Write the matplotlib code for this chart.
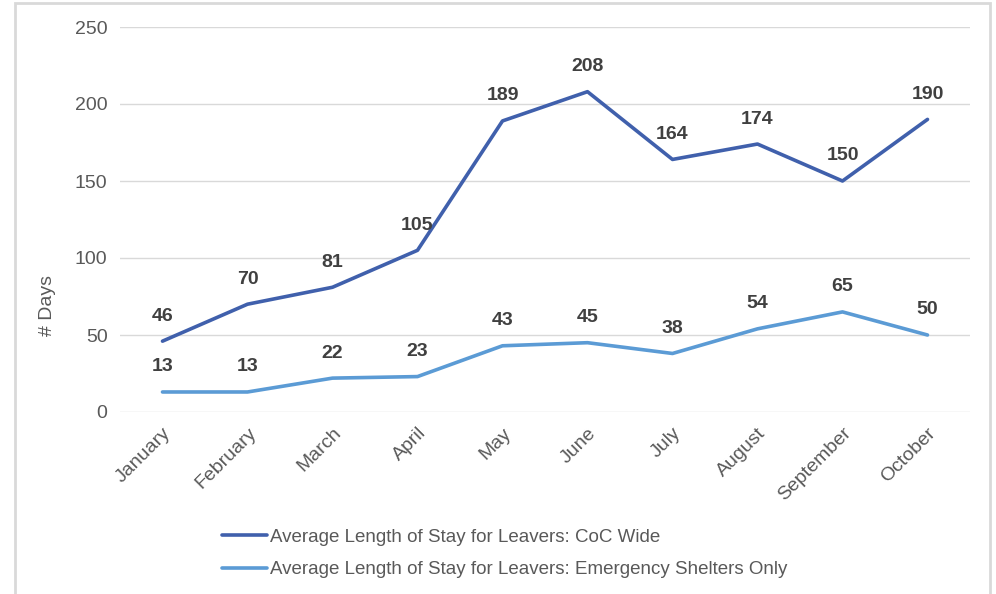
import matplotlib
matplotlib.use("Agg")
import matplotlib.pyplot as plt
from matplotlib.patches import Rectangle

months = ["January", "February", "March", "April", "May", "June",
          "July", "August", "September", "October"]
coc_wide = [46, 70, 81, 105, 189, 208, 164, 174, 150, 190]
shelters = [13, 13, 22, 23, 43, 45, 38, 54, 65, 50]
series_names = ["Average Length of Stay for Leavers: CoC Wide",
                "Average Length of Stay for Leavers: Emergency Shelters Only"]

plt.rcParams["font.family"] = ["Liberation Sans", "DejaVu Sans"]

W, H = 996, 594
fig = plt.figure(figsize=(W / 100, H / 100), dpi=100)
ax = fig.add_axes([120 / W, 1 - 412 / H, 850 / W, 385 / H])

colors = ["#4060AC", "#5B9BD5"]
x = list(range(len(months)))
for vals, c, name in zip([coc_wide, shelters], colors, series_names):
    ax.plot(x, vals, color=c, lw=2.6, label=name, solid_capstyle="round")
    for xi, v in zip(x, vals):
        ax.annotate(str(v), (xi, v), xytext=(0, 18), textcoords="offset points",
                    ha="center", va="center", fontsize=14, fontweight="bold",
                    color="#404040")

ax.set_xlim(-0.5, len(months) - 0.5)
ax.set_ylim(0, 250)
ax.set_yticks(range(0, 251, 50))
ax.grid(axis="y", color="#D9D9D9", lw=1)
ax.set_axisbelow(True)
for s in ax.spines.values():
    s.set_visible(False)
ax.tick_params(length=0, colors="#595959", labelsize=14, pad=9)
ax.set_xticks(x)
ax.set_xticklabels(months, rotation=45, ha="right", rotation_mode="anchor")

fig.text(47 / W, 1 - 305 / H, "# Days", rotation=90, ha="center", va="center",
         fontsize=14, color="#595959")

fig.legend(loc="upper left", bbox_to_anchor=(205 / W, 1 - 512 / H), frameon=False,
           fontsize=13.5, handlelength=2.4, handletextpad=0.15, labelspacing=0.8,
           labelcolor="#595959")

fig.patches.append(Rectangle((15 / W, -0.02), 975 / W, (H - 3) / H + 0.02,
                             transform=fig.transFigure, fill=False,
                             edgecolor="#D9D9D9", lw=2))

fig.savefig("out.png", dpi=100)
